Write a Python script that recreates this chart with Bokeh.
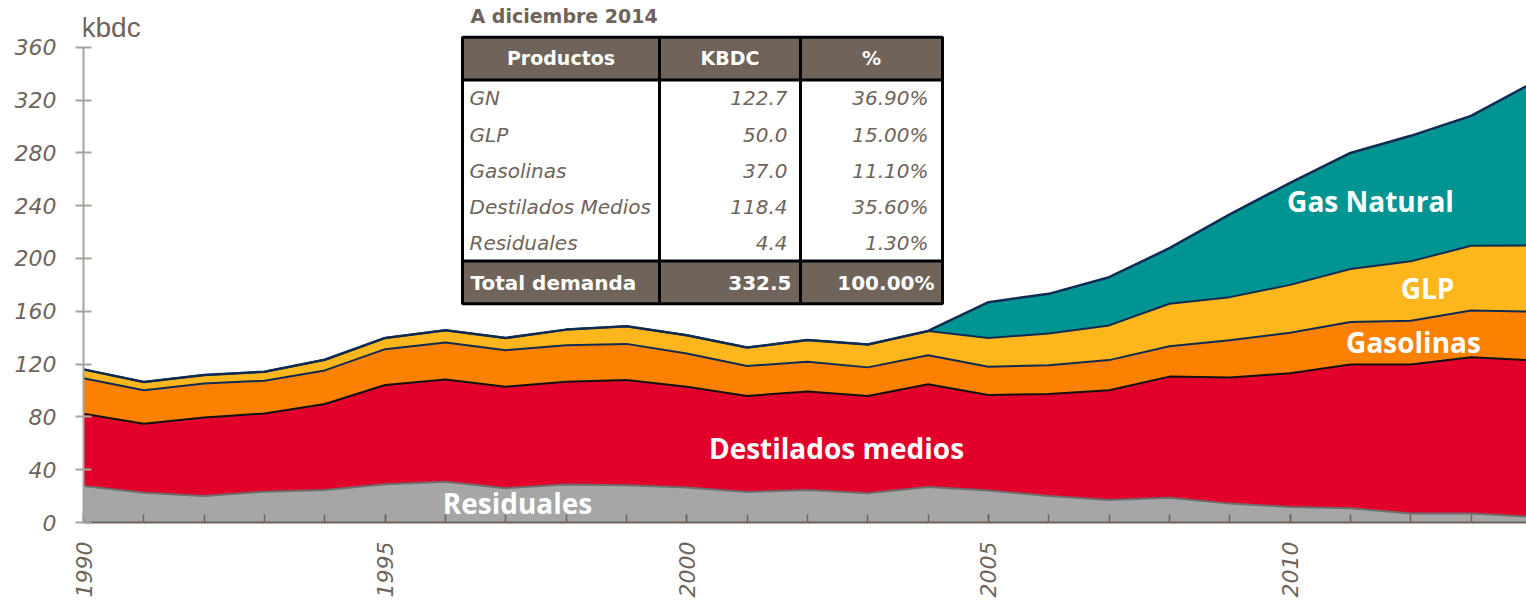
import numpy as np
from bokeh.plotting import figure
from bokeh.models import ColumnDataSource, Range1d, FixedTicker, SingleIntervalTicker
from bokeh.core.properties import value
from bokeh.embed import file_html
from bokeh.resources import INLINE

# ---------------- data ----------------
years = list(range(1990, 2015))
residuales = [27.6, 22.6, 20.1, 23.3, 24.6, 28.9, 30.9, 26.0, 28.7, 28.2, 26.5, 23.1, 24.6,
              22.1, 26.9, 24.2, 20.1, 17.1, 18.8, 14.3, 11.8, 10.8, 6.8, 6.8, 4.4]
destilados = [54.7, 52.2, 59.5, 59.3, 65.2, 75.2, 77.5, 76.9, 78.0, 79.7, 76.4, 72.8, 74.6,
              73.8, 77.8, 72.4, 77.3, 83.1, 91.7, 95.6, 101.2, 108.9, 112.9, 118.4, 118.4]
gasolinas = [26.9, 25.4, 25.6, 24.8, 25.4, 27.2, 27.9, 27.6, 27.6, 27.4, 25.1, 22.6, 22.6,
             21.6, 22.0, 21.4, 21.8, 22.8, 23.0, 28.1, 30.8, 32.2, 33.2, 35.4, 37.0]
glp = [6.8, 6.2, 6.5, 6.8, 8.1, 8.5, 9.3, 9.3, 11.8, 13.3, 13.8, 14.0, 16.5,
       17.3, 18.4, 21.8, 23.9, 26.3, 32.2, 32.7, 36.2, 40.1, 44.9, 49.0, 50.0]
gas_natural = [0, 0, 0, 0, 0, 0, 0, 0, 0, 0, 0, 0, 0,
               0, 0, 27.1, 30.1, 36.5, 42.1, 62.7, 77.3, 87.9, 95.1, 98.4, 122.7]

y_ticks = [0, 40, 80, 120, 160, 200, 240, 280, 320, 360]

tabla_titulo = "A diciembre 2014"
tabla_encabezados = ["Productos", "KBDC", "%"]
tabla_productos = ["GN", "GLP", "Gasolinas", "Destilados Medios", "Residuales"]
tabla_kbdc = ["122.7", "50.0", "37.0", "118.4", "4.4"]
tabla_pct = ["36.90%", "15.00%", "11.10%", "35.60%", "1.30%"]
tabla_total = ["Total demanda", "332.5", "100.00%"]

serie_etiquetas = ["Residuales", "Destilados medios", "Gas Natural", "GLP", "Gasolinas"]

# ---------------- layout helpers ----------------
W, H = 1526, 600
LEFT_B = 83
FRAME_BOTTOM = 525
BOTTOM_B = H - FRAME_BOTTOM
FRAME_W = W - LEFT_B
PX_YEAR = 60.33
PX_UNIT = (FRAME_BOTTOM - 47) / 360.0
X_END = 1990 + FRAME_W / PX_YEAR
Y_END = FRAME_BOTTOM / PX_UNIT

def X(px):  # page pixel -> data x
    return 1990 + (px - LEFT_B) / PX_YEAR

def Y(py):  # page pixel -> data y
    return (FRAME_BOTTOM - py) / PX_UNIT

BROWN = "#6f635a"
NAVY = "#0f2b52"
C_RES, C_DES, C_GAS, C_GLP, C_GN = "#a6a6a6", "#e2002b", "#fd8100", "#fdb71c", "#009593"
FONT = "Open Sans"
TFONT = "DejaVu Sans"

p = figure(width=W, height=H, output_backend="svg", toolbar_location=None,
           x_range=Range1d(1990, X_END), y_range=Range1d(0, Y_END),
           min_border_left=LEFT_B, min_border_right=0, min_border_top=0,
           min_border_bottom=BOTTOM_B)
p.outline_line_color = None
p.xgrid.visible = False
p.ygrid.visible = False

# ---------------- stacked areas ----------------
r = np.array(residuales)
d = r + np.array(destilados)
g = d + np.array(gasolinas)
l = g + np.array(glp)
t = l + np.array(gas_natural)
z = np.zeros(len(years))
src = ColumnDataSource(dict(x=years, z=z, r=r, d=d, g=g, l=l, t=t))

p.varea(x="x", y1="l", y2="t", source=src, fill_color=C_GN)
p.varea(x="x", y1="g", y2="l", source=src, fill_color=C_GLP)
p.varea(x="x", y1="d", y2="g", source=src, fill_color=C_GAS)
p.varea(x="x", y1="r", y2="d", source=src, fill_color=C_DES)
p.varea(x="x", y1="z", y2="r", source=src, fill_color=C_RES)

p.line(x="x", y="r", source=src, line_color="#6e6e6e", line_width=2)
p.line(x="x", y="d", source=src, line_color="#111111", line_width=2)
p.line(x="x", y="g", source=src, line_color=NAVY, line_width=2)
p.line(x="x", y="l", source=src, line_color=NAVY, line_width=2)
p.line(x="x", y="t", source=src, line_color=NAVY, line_width=2.5)

# ---------------- axes ----------------
xa = p.xaxis[0]
xa.ticker = SingleIntervalTicker(interval=5, num_minor_ticks=5)
xa.bounds = (1990, 2014)
xa.axis_line_color = BROWN
xa.axis_line_width = 2
xa.major_tick_line_color = BROWN
xa.minor_tick_line_color = BROWN
xa.major_tick_line_width = 1.5
xa.minor_tick_line_width = 1.5
xa.major_tick_in = 8
xa.major_tick_out = 0
xa.minor_tick_in = 8
xa.minor_tick_out = 0
xa.major_label_orientation = np.pi / 2
xa.major_label_standoff = 19
xa.major_label_text_font = TFONT
xa.major_label_text_font_style = "italic"
xa.major_label_text_font_size = "22px"
xa.major_label_text_color = BROWN

ya = p.yaxis[0]
ya.ticker = FixedTicker(ticks=y_ticks)
ya.bounds = (0, 360)
ya.axis_line_color = "#a9a39e"
ya.axis_line_width = 2
ya.major_tick_line_color = "#a9a39e"
ya.major_tick_line_width = 2
ya.major_tick_in = 8
ya.major_tick_out = 8
ya.minor_tick_line_color = None
ya.major_label_standoff = 19
ya.major_label_text_font = TFONT
ya.major_label_text_font_style = "italic"
ya.major_label_text_font_size = "22px"
ya.major_label_text_color = BROWN

p.text(x=[X(81)], y=[Y(27)], text=["kbdc"], text_font=value("Liberation Sans"),
       text_font_size="28px", text_color=BROWN, text_baseline="middle", text_align="left")

# ---------------- series labels ----------------
p.text(x=[X(517), X(836), X(1370), X(1427), X(1413)],
       y=[Y(505), Y(450), Y(202), Y(289), Y(343)],
       text=serie_etiquetas, text_font=value(FONT), text_font_style="bold",
       text_font_size="28px", text_color="white", text_align="center", text_baseline="middle")

# ---------------- table ----------------
TL, TR = 462, 942
C1, C2 = 659, 800
TT, HB, BB, TB = 37, 80, 262, 305
rows_y = [98, 135, 171, 208, 244]

p.text(x=[X(470)], y=[Y(16)], text=[tabla_titulo], text_font=value(TFONT), text_font_style="bold",
       text_font_size="19px", text_color=BROWN, text_align="left", text_baseline="middle")

p.quad(left=[X(TL), X(TL)], right=[X(TR), X(TR)], top=[Y(TT), Y(BB)], bottom=[Y(HB), Y(TB)],
       fill_color=BROWN, line_color=None)

p.text(x=[X(469)] * 5, y=[Y(v) for v in rows_y], text=tabla_productos,
       text_font=value(TFONT), text_font_style="italic", text_font_size="20px",
       text_color=BROWN, text_align="left", text_baseline="middle")
# cell clipping of the long product name
p.quad(left=[X(C1)], right=[X(C1 + 50)], top=[Y(HB + 2)], bottom=[Y(BB - 2)],
       fill_color="white", line_color=None)
p.text(x=[X(787)] * 5, y=[Y(v) for v in rows_y], text=tabla_kbdc,
       text_font=value(TFONT), text_font_style="italic", text_font_size="20px",
       text_color=BROWN, text_align="right", text_baseline="middle")
p.text(x=[X(928)] * 5, y=[Y(v) for v in rows_y], text=tabla_pct,
       text_font=value(TFONT), text_font_style="italic", text_font_size="20px",
       text_color=BROWN, text_align="right", text_baseline="middle")

p.segment(x0=[X(TL), X(TL), X(C1), X(C2)], y0=[Y(HB), Y(BB), Y(TT), Y(TT)],
          x1=[X(TR), X(TR), X(C1), X(C2)], y1=[Y(HB), Y(BB), Y(TB), Y(TB)],
          line_color="black", line_width=3)
p.quad(left=[X(TL)], right=[X(TR)], top=[Y(TT)], bottom=[Y(TB)],
       fill_color=None, line_color="black", line_width=3)

p.text(x=[X((TL + C1) / 2), X((C1 + C2) / 2), X((C2 + TR) / 2)], y=[Y(58)] * 3,
       text=tabla_encabezados, text_font=value(TFONT), text_font_style="bold",
       text_font_size="19px", text_color="white", text_align="center", text_baseline="middle")

p.text(x=[X(470)], y=[Y(284)], text=[tabla_total[0]], text_font=value(TFONT), text_font_style="bold",
       text_font_size="20px", text_color="white", text_align="left", text_baseline="middle")
p.text(x=[X(791), X(934)], y=[Y(284)] * 2, text=tabla_total[1:], text_font=value(TFONT),
       text_font_style="bold", text_font_size="20px", text_color="white",
       text_align="right", text_baseline="middle")

open("out.html", "w").write(file_html(p, INLINE))
